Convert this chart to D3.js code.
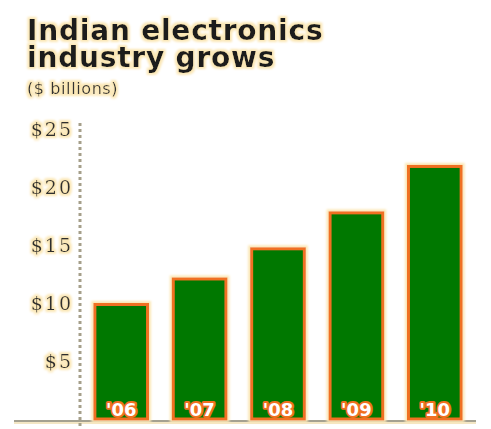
<!DOCTYPE html>
<html>
<head>
<meta charset="utf-8">
<script src="https://cdn.jsdelivr.net/npm/d3@7"></script>
<style>
  body { margin: 0; background: #fff; }
  .title { font-family: "DejaVu Sans", sans-serif; font-weight: bold; fill: #1a1a1a; letter-spacing: 0.8px; }
  .sub { font-family: "DejaVu Sans", sans-serif; font-size: 16px; fill: #333; letter-spacing: 0.6px; }
  .tick text { font-family: "DejaVu Serif", "Liberation Serif", serif; font-size: 19px; fill: #2e2e2e; letter-spacing: 2px; }
  .barLabel { font-family: "DejaVu Sans", sans-serif; font-weight: bold; font-size: 18px; fill: #fff;
    stroke: #f07020; stroke-width: 4px; paint-order: stroke; stroke-linejoin: round; }
</style>
</head>
<body>
<div id="chart"></div>
<script>
const years = ["'06", "'07", "'08", "'09", "'10"];
const values = [10, 12.2, 14.8, 17.9, 21.9];
const tickValues = [5, 10, 15, 20, 25];
const titleLines = ["Indian electronics", "industry grows"];

const width = 491;
const height = 429;

const svg = d3.select("#chart").append("svg")
  .attr("width", width)
  .attr("height", height);

// cream halo used all over the original graphic
const defs = svg.append("defs");
const glow = defs.append("filter").attr("id", "glow")
  .attr("x", "-10%").attr("y", "-10%").attr("width", "120%").attr("height", "120%");
glow.append("feMorphology").attr("in", "SourceAlpha").attr("operator", "dilate").attr("radius", 1.6).attr("result", "fat");
glow.append("feGaussianBlur").attr("in", "fat").attr("stdDeviation", 1.1).attr("result", "blur");
glow.append("feFlood").attr("flood-color", "#fbe7b5").attr("result", "col");
glow.append("feComposite").attr("in", "col").attr("in2", "blur").attr("operator", "in").attr("result", "halo");
const merge = glow.append("feMerge");
merge.append("feMergeNode").attr("in", "halo");
merge.append("feMergeNode").attr("in", "SourceGraphic");

const x = d3.scaleBand()
  .domain(years)
  .range([82, 474])
  .paddingInner(0.29)
  .paddingOuter(0.145);

const y = d3.scaleLinear()
  .domain([0, 25])
  .range([419, 129]);

// title (two lines in one text block)
const titleG = svg.append("g").attr("filter", "url(#glow)");
titleG.append("text").attr("class", "title")
  .style("font-size", "28px")
  .selectAll("tspan")
  .data(titleLines)
  .enter()
  .append("tspan")
  .attr("x", 27)
  .attr("y", (d, i) => 40 + i * 27)
  .text(d => d);
titleG.append("text").attr("class", "sub").attr("x", 27).attr("y", 94)
  .text("($ billions)");

// baseline
svg.append("line")
  .attr("x1", 14).attr("x2", 476)
  .attr("y1", 422).attr("y2", 422)
  .attr("stroke", "#f3e6c4").attr("stroke-width", 4);
svg.append("line")
  .attr("x1", 14).attr("x2", 476)
  .attr("y1", 421).attr("y2", 421)
  .attr("stroke", "#8a8a80").attr("stroke-width", 1.5);

// dotted y axis
const axisG = svg.append("g")
  .attr("transform", "translate(80,0)")
  .call(d3.axisLeft(y).tickValues(tickValues).tickSize(0).tickPadding(7).tickFormat(d => "$" + d));
axisG.select(".domain").remove();
axisG.selectAll(".tick text").attr("filter", "url(#glow)").attr("dy", "0.35em");

svg.append("line")
  .attr("x1", 80).attr("x2", 80)
  .attr("y1", y(25) - 6).attr("y2", height)
  .attr("stroke", "#a59f8a")
  .attr("stroke-width", 3)
  .attr("stroke-dasharray", "3,3");

// bars
const bars = svg.append("g").attr("filter", "url(#glow)");
bars.selectAll(".bar")
  .data(values)
  .enter()
  .append("rect")
  .attr("class", "bar")
  .attr("x", (d, i) => x(years[i]) + 1.5)
  .attr("y", d => y(d) + 1.5)
  .attr("width", x.bandwidth() - 3)
  .attr("height", d => y(0) - y(d) - 1.5)
  .attr("fill", "#007800")
  .attr("stroke", "#f07020")
  .attr("stroke-width", 3);

svg.selectAll(".barLabel")
  .data(years)
  .enter()
  .append("text")
  .attr("class", "barLabel")
  .attr("x", d => x(d) + x.bandwidth() / 2)
  .attr("y", y(0) - 3)
  .attr("text-anchor", "middle")
  .text(d => d);
</script>
</body>
</html>
